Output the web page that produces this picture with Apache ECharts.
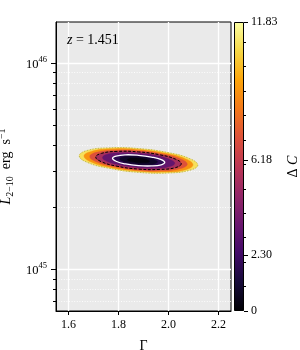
<!DOCTYPE html>
<html><head><meta charset="utf-8">
<script src="https://cdn.jsdelivr.net/npm/echarts@6/dist/echarts.min.js"></script>
<style>html,body{margin:0;padding:0;background:#fff}#c{width:300px;height:350px}</style>
</head><body><div id="c"></div>
<script>
// ---------- data ----------
const xTicks = [1.6, 1.8, 2.0, 2.2];
const yMajorTicks = [1e45, 1e46];
const yMinorTicks = [7e44, 8e44, 9e44, 2e45, 3e45, 4e45, 5e45, 6e45, 7e45, 8e45, 9e45];
const cbTicks = [0, 2.30, 6.18, 11.83];
const cbMinorTicks = [1, 2, 3, 4, 5, 6, 7, 8, 9, 10, 11];
const redshiftLabel = '1.451';

// contour rings (Gamma, L [erg/s]) at each Delta C level
const contourLevels = [11.83, 10.0, 8.0, 6.18, 4.4, 2.30, 1.2, 0.4];
const ring_11_83 = [[2.117,3.21e45],[2.085,3.03e45],[1.998,2.94e45],[1.880,2.96e45],[1.762,3.10e45],[1.675,3.31e45],[1.643,3.56e45],[1.675,3.78e45],[1.762,3.89e45],[1.880,3.86e45],[1.998,3.69e45],[2.085,3.45e45]];
const ring_10_0  = [[2.098,3.22e45],[2.069,3.05e45],[1.989,2.97e45],[1.880,3.00e45],[1.771,3.12e45],[1.691,3.32e45],[1.662,3.55e45],[1.691,3.74e45],[1.771,3.85e45],[1.880,3.82e45],[1.989,3.66e45],[2.069,3.44e45]];
const ring_8_0   = [[2.075,3.24e45],[2.049,3.09e45],[1.977,3.01e45],[1.880,3.03e45],[1.783,3.15e45],[1.711,3.33e45],[1.685,3.53e45],[1.711,3.70e45],[1.783,3.79e45],[1.880,3.77e45],[1.977,3.63e45],[2.049,3.44e45]];
const ring_6_18  = [[2.051,3.26e45],[2.028,3.12e45],[1.966,3.06e45],[1.880,3.07e45],[1.794,3.17e45],[1.732,3.33e45],[1.709,3.51e45],[1.732,3.66e45],[1.794,3.74e45],[1.880,3.72e45],[1.966,3.60e45],[2.028,3.43e45]];
const ring_4_4   = [[2.025,3.28e45],[2.005,3.16e45],[1.952,3.10e45],[1.880,3.12e45],[1.808,3.21e45],[1.755,3.34e45],[1.736,3.49e45],[1.755,3.62e45],[1.808,3.68e45],[1.880,3.66e45],[1.952,3.57e45],[2.005,3.42e45]];
const ring_2_30  = [[1.985,3.30e45],[1.971,3.22e45],[1.932,3.18e45],[1.880,3.19e45],[1.828,3.25e45],[1.790,3.35e45],[1.776,3.46e45],[1.790,3.55e45],[1.828,3.60e45],[1.880,3.58e45],[1.932,3.51e45],[1.971,3.41e45]];
const ring_1_2   = [[1.956,3.33e45],[1.945,3.26e45],[1.918,3.23e45],[1.880,3.24e45],[1.842,3.29e45],[1.815,3.36e45],[1.805,3.44e45],[1.815,3.50e45],[1.842,3.54e45],[1.880,3.53e45],[1.918,3.48e45],[1.945,3.40e45]];
const ring_0_4   = [[1.924,3.35e45],[1.918,3.31e45],[1.902,3.30e45],[1.880,3.30e45],[1.858,3.33e45],[1.842,3.37e45],[1.836,3.41e45],[1.842,3.45e45],[1.858,3.47e45],[1.880,3.46e45],[1.902,3.44e45],[1.918,3.39e45]];
const rings = [ring_11_83, ring_10_0, ring_8_0, ring_6_18, ring_4_4, ring_2_30, ring_1_2, ring_0_4];
const lineRings = [ring_11_83, ring_6_18, ring_2_30];

// ---------- styling ----------
const FONT = "'Liberation Serif', 'DejaVu Serif', serif";
const inferno = ['#000004','#160b39','#420a68','#6a176e','#932667','#bc3754','#dd513a','#f37819','#fca50a','#f6d746','#fcffa4'];
function hex2rgb(h){return [parseInt(h.substr(1,2),16),parseInt(h.substr(3,2),16),parseInt(h.substr(5,2),16)];}
function cmap(t){
  t = Math.max(0, Math.min(1, t));
  const p = t * (inferno.length - 1), i = Math.min(Math.floor(p), inferno.length - 2), f = p - i;
  const a = hex2rgb(inferno[i]), b = hex2rgb(inferno[i+1]);
  return 'rgb(' + a.map((v,k)=>Math.round(v + (b[k]-v)*f)).join(',') + ')';
}
const cbMax = cbTicks[cbTicks.length - 1];
const lineStyles = [
  {stroke:'#a9a43a', lineWidth:0.7, lineDash:[1.4,1.4]},
  {stroke:'#000000', lineWidth:1.0, lineDash:[3,1.6]},
  {stroke:'#ffffff', lineWidth:1.3, lineDash:null}
];

const chart = echarts.init(document.getElementById('c'), null, {renderer:'canvas'});
const axisBlack = {show:true, lineStyle:{color:'#000', width:1}};
chart.setOption({
  animation:false,
  backgroundColor:'#fff',
  title:{
    text:'{i|z} = ' + redshiftLabel, left:62, top:28,
    textStyle:{fontFamily:FONT, fontSize:14, fontWeight:'normal', color:'#000',
      rich:{i:{fontFamily:FONT, fontSize:14, fontStyle:'italic', color:'#000'}}}
  },
  grid:[
    {left:56, right:69, top:22, bottom:39, show:true, backgroundColor:'#EAEAEA', borderColor:'#000', borderWidth:1, outerBoundsMode:'none', containLabel:false},
    {left:234, width:10, top:22, bottom:39, show:false, outerBoundsMode:'none', containLabel:false}
  ],
  xAxis:[
    {type:'value', gridIndex:0, min:1.55, max:2.25,
     axisLine:axisBlack,
     axisTick:{show:true, customValues:xTicks, length:4, lineStyle:{color:'#000'}},
     axisLabel:{customValues:xTicks, formatter:v=>v.toFixed(1), fontFamily:FONT, fontSize:12, color:'#000', margin:8},
     splitLine:{show:true, lineStyle:{color:'#fff', width:1.3}},
     name:'Γ', nameLocation:'middle', nameGap:28,
     nameTextStyle:{fontFamily:FONT, fontSize:14, color:'#000'}},
    {type:'category', gridIndex:1, data:['cb'], show:false}
  ],
  yAxis:[
    {type:'log', logBase:10, gridIndex:0, min:6.3e44, max:1.585e46, position:'left',
     axisLine:axisBlack,
     axisTick:{show:true, customValues:yMajorTicks, length:5, lineStyle:{color:'#000'}},
     axisLabel:{customValues:yMajorTicks, margin:9,
       formatter:v=>'{a|10}{b|' + Math.round(Math.log10(v)) + '}',
       rich:{a:{fontFamily:FONT, fontSize:12.5, color:'#000', lineHeight:16, verticalAlign:'bottom'},
             b:{fontFamily:FONT, fontSize:8.5, color:'#000', lineHeight:9, verticalAlign:'top'}}},
     splitLine:{show:true, lineStyle:{color:'#fff', width:1.3}},
     name:'{i|L}{s|2−10}  erg  s{p|−1}', nameLocation:'middle', nameGap:39, nameRotate:90,
     nameTextStyle:{fontFamily:FONT, fontSize:14, color:'#000', lineHeight:18,
       rich:{i:{fontFamily:FONT, fontSize:14, fontStyle:'italic', color:'#000', lineHeight:18},
             s:{fontFamily:FONT, fontSize:10, color:'#000', lineHeight:11, verticalAlign:'bottom'},
             p:{fontFamily:FONT, fontSize:10, color:'#000', lineHeight:11, verticalAlign:'top'}}}},
    {type:'log', logBase:10, gridIndex:0, min:6.3e44, max:1.585e46, position:'left',
     axisLine:{show:false},
     axisTick:{show:true, customValues:yMinorTicks, length:3, lineStyle:{color:'#000'}},
     axisLabel:{show:false},
     splitLine:{show:true, lineStyle:{color:'#fff', width:0.9, type:[1,1.6]}}},
    {type:'value', gridIndex:1, min:0, max:cbMax, position:'right',
     axisLine:{show:false},
     axisTick:{show:true, customValues:cbTicks, length:4, lineStyle:{color:'#000'}},
     axisLabel:{customValues:cbTicks, formatter:v=>(v===0?'0':v.toFixed(2)), fontFamily:FONT, fontSize:12, color:'#000', margin:7},
     splitLine:{show:false},
     name:'{d|Δ} {i|C}', nameLocation:'middle', nameGap:42, nameRotate:90,
     nameTextStyle:{fontFamily:FONT, fontSize:14, color:'#000',
       rich:{d:{fontFamily:FONT, fontSize:14, color:'#000'}, i:{fontFamily:FONT, fontSize:14, fontStyle:'italic', color:'#000'}}}},
    {type:'value', gridIndex:1, min:0, max:cbMax, position:'right',
     axisLine:{show:false},
     axisTick:{show:true, customValues:cbMinorTicks, length:2, lineStyle:{color:'#000'}},
     axisLabel:{show:false}, splitLine:{show:false}}
  ],
  series:[
    {type:'custom', name:'fills', xAxisIndex:0, yAxisIndex:0, silent:true, z:3,
     data:rings.map(r=>r[0]), encode:{x:0, y:1},
     renderItem:function(params, api){
       const i = params.dataIndex;
       const lo = i + 1 < contourLevels.length ? contourLevels[i+1] : 0;
       const col = cmap(((contourLevels[i] + lo) / 2) / cbMax);
       return {type:'polygon', shape:{points:rings[i].map(p=>api.coord(p)), smooth:0.45},
               style:{fill:col, stroke:col, lineWidth:0.4}};
     }},
    {type:'custom', name:'lines', xAxisIndex:0, yAxisIndex:0, silent:true, z:4,
     data:lineRings.map(r=>r[0]), encode:{x:0, y:1},
     renderItem:function(params, api){
       const i = params.dataIndex;
       const s = lineStyles[i];
       return {type:'polygon', shape:{points:lineRings[i].map(p=>api.coord(p)), smooth:0.45},
               style:{fill:null, stroke:s.stroke, lineWidth:s.lineWidth, lineDash:s.lineDash}};
     }},
    {type:'bar', xAxisIndex:1, yAxisIndex:2, silent:true, barWidth:'100%',
     data:[cbMax],
     itemStyle:{borderColor:'#000', borderWidth:1,
       color:{type:'linear', x:0, y:1, x2:0, y2:0,
              colorStops:inferno.map((c,k)=>({offset:k/(inferno.length-1), color:c}))}}}
  ]
});
</script></body></html>
